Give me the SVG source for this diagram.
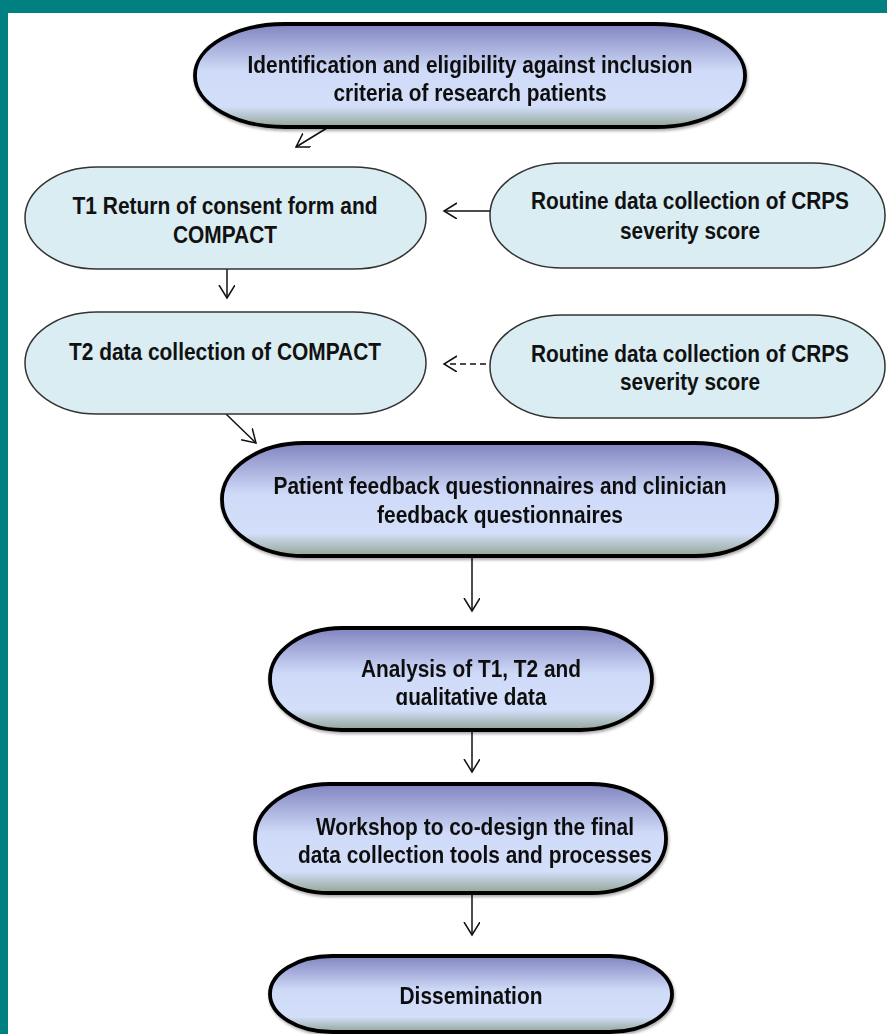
<svg xmlns="http://www.w3.org/2000/svg" width="887" height="1034" viewBox="0 0 887 1034">
<style>
.t{font-family:"Liberation Sans",Arial,sans-serif;font-weight:bold;font-size:23px;fill:#111;text-anchor:middle;}
.dark{fill:url(#g);stroke:#000;stroke-width:3.8;}
.light{fill:#daedf3;stroke:#333;stroke-width:1.5;}
.c{stroke:#111;stroke-width:1.5;fill:none;marker-end:url(#ah);}
</style>
<defs>
<linearGradient id="g" x1="0" y1="0" x2="0" y2="1">
<stop offset="0" stop-color="#8184c0"/>
<stop offset="0.45" stop-color="#cfdaf8"/>
<stop offset="0.8" stop-color="#d3dffa"/>
<stop offset="1" stop-color="#93a595"/>
</linearGradient>
<marker id="ah" markerUnits="userSpaceOnUse" markerWidth="16" markerHeight="18" refX="13" refY="8" orient="auto">
<path d="M0,0 L13,8 L0,16" fill="none" stroke="#111" stroke-width="1.5"/>
</marker>
<filter id="sh" x="-5%" y="-10%" width="110%" height="125%">
<feGaussianBlur in="SourceAlpha" stdDeviation="1.5"/>
<feOffset dx="1" dy="2" result="b"/>
<feComponentTransfer><feFuncA type="linear" slope="0.35"/></feComponentTransfer>
<feMerge><feMergeNode/><feMergeNode in="SourceGraphic"/></feMerge>
</filter>
<clipPath id="clipA"><rect x="250" y="620" width="420" height="85"/></clipPath>
</defs>
<rect x="0" y="0" width="887" height="1034" fill="#fff"/>
<rect x="0" y="0" width="887" height="13" fill="#008080"/>
<rect x="0" y="0" width="8" height="1034" fill="#008080"/>

<g id="connectors">
<line class="c" x1="327" y1="128" x2="296" y2="147"/>
<line class="c" x1="227" y1="269" x2="227" y2="298"/>
<line class="c" x1="490" y1="211" x2="444" y2="211"/>
<line class="c" x1="486" y1="364" x2="444" y2="364" stroke-dasharray="6,4"/>
<line class="c" x1="226" y1="414" x2="256" y2="443"/>
<line class="c" x1="472" y1="557" x2="472" y2="611"/>
<line class="c" x1="472" y1="731" x2="472" y2="772"/>
<line class="c" x1="472" y1="894" x2="472" y2="935"/>
</g>

<g id="n1" filter="url(#sh)">
<rect class="dark" x="195" y="24" width="550" height="103" rx="90" ry="51"/>
<text class="t" x="470" y="73" textLength="445" lengthAdjust="spacingAndGlyphs">Identification and eligibility against inclusion</text>
<text class="t" x="470" y="101" textLength="273" lengthAdjust="spacingAndGlyphs">criteria of research patients</text>
</g>

<g id="n2">
<rect class="light" x="25" y="167" width="401" height="102" rx="72" ry="51"/>
<text class="t" x="225" y="214" textLength="305" lengthAdjust="spacingAndGlyphs">T1 Return of consent form and</text>
<text class="t" x="225" y="243" textLength="104" lengthAdjust="spacingAndGlyphs">COMPACT</text>
</g>

<g id="n3">
<rect class="light" x="490" y="163" width="395" height="105" rx="72" ry="52"/>
<text class="t" x="690" y="209" textLength="318" lengthAdjust="spacingAndGlyphs">Routine data collection of CRPS</text>
<text class="t" x="690" y="239" textLength="140" lengthAdjust="spacingAndGlyphs">severity score</text>
</g>

<g id="n4">
<rect class="light" x="25" y="312" width="401" height="102" rx="72" ry="51"/>
<text class="t" x="225" y="360" textLength="312" lengthAdjust="spacingAndGlyphs">T2 data collection of COMPACT</text>
</g>

<g id="n5">
<rect class="light" x="490" y="315" width="395" height="103" rx="72" ry="51"/>
<text class="t" x="690" y="362" textLength="318" lengthAdjust="spacingAndGlyphs">Routine data collection of CRPS</text>
<text class="t" x="690" y="390" textLength="140" lengthAdjust="spacingAndGlyphs">severity score</text>
</g>

<g id="n6" filter="url(#sh)">
<rect class="dark" x="222" y="443" width="555" height="113" rx="82" ry="56"/>
<text class="t" x="500" y="494" textLength="453" lengthAdjust="spacingAndGlyphs">Patient feedback questionnaires and clinician</text>
<text class="t" x="500" y="523" textLength="246" lengthAdjust="spacingAndGlyphs">feedback questionnaires</text>
</g>

<g id="n7" filter="url(#sh)">
<rect class="dark" x="270" y="628" width="382" height="102" rx="72" ry="51"/>
<text class="t" x="471" y="677" textLength="220" lengthAdjust="spacingAndGlyphs">Analysis of T1, T2 and</text>
<text class="t" x="471" y="705" textLength="151" lengthAdjust="spacingAndGlyphs" clip-path="url(#clipA)">qualitative data</text>
</g>

<g id="n8" filter="url(#sh)">
<rect class="dark" x="255" y="784" width="411" height="109" rx="75" ry="54"/>
<text class="t" x="475" y="835" textLength="318" lengthAdjust="spacingAndGlyphs">Workshop to co-design the final</text>
<text class="t" x="475" y="863" textLength="354" lengthAdjust="spacingAndGlyphs">data collection tools and processes</text>
</g>

<g id="n9" filter="url(#sh)">
<rect class="dark" x="270" y="956" width="402" height="76" rx="62" ry="38"/>
<text class="t" x="471" y="1004" textLength="143" lengthAdjust="spacingAndGlyphs">Dissemination</text>
</g>
</svg>
